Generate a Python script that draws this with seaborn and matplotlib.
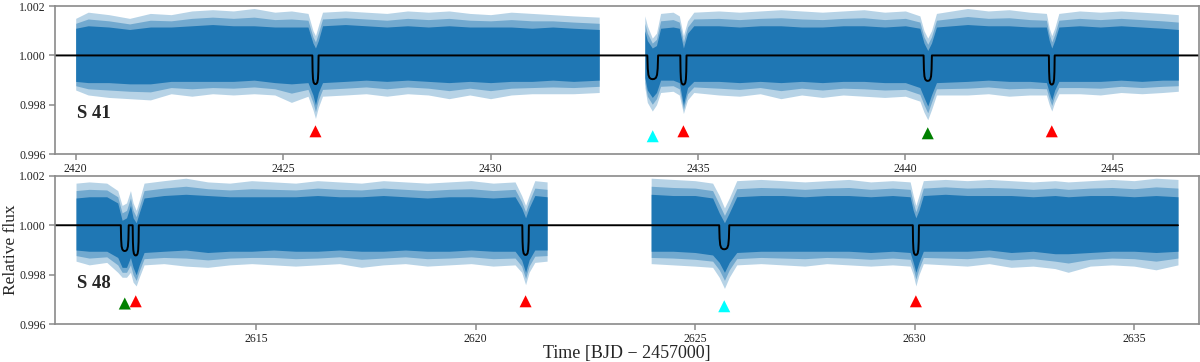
import numpy as np
import pandas as pd
import matplotlib
matplotlib.use('Agg')
import matplotlib.pyplot as plt
import seaborn as sns

# ─── DATA ─────────────────────────────────────────────────────────────────────
# Flux scatter is drawn as envelopes, in ppm around 1.0:
# columns: time, outer upper, dense upper, dense lower, outer lower
S41_SEG_A = [
    (2420.00, 1500, 1100, -1050, -1400), (2420.30, 1750, 1200, -1100, -1600),
    (2420.80, 1650, 1150, -1100, -1700), (2421.30, 1500, 1050, -1150, -1750),
    (2421.80, 1700, 1150, -1150, -1800), (2422.30, 1650, 1150, -1050, -1550),
    (2422.80, 1800, 1200, -1050, -1650), (2423.30, 1850, 1250, -1050, -1550),
    (2423.80, 1800, 1200, -1050, -1600), (2424.30, 1900, 1200, -1000, -1550),
    (2424.80, 1750, 1150, -1100, -1600), (2425.20, 1800, 1150, -1150, -1900),
    (2425.60, 1700, 1150, -1100, -1650), (2425.72, 1000, 500, -1600, -2200),
    (2425.78, 800, 300, -2000, -2550), (2425.85, 1200, 600, -1500, -2100),
    (2425.95, 1750, 1200, -1100, -1650), (2426.50, 1800, 1250, -1050, -1600),
    (2427.00, 1750, 1200, -1000, -1550), (2427.50, 1700, 1150, -1050, -1650),
    (2428.00, 1800, 1200, -1000, -1550), (2428.50, 1750, 1150, -1050, -1600),
    (2429.00, 1800, 1200, -1100, -1750), (2429.50, 1700, 1150, -1050, -1600),
    (2430.00, 1650, 1150, -1100, -1750), (2430.50, 1750, 1150, -1050, -1600),
    (2431.00, 1700, 1100, -1050, -1550), (2431.50, 1650, 1150, -1000, -1550),
    (2432.00, 1600, 1100, -1050, -1550), (2432.62, 1550, 1050, -1000, -1500),
]
S41_SEG_B = [
    (2433.72, 1600, 1000, -900, -1300), (2433.78, 1200, 600, -1400, -1900),
    (2433.90, 700, 300, -1700, -2250), (2434.00, 900, 400, -1500, -2000),
    (2434.10, 1700, 1100, -1000, -1500), (2434.40, 1750, 1150, -1000, -1450),
    (2434.55, 1600, 1100, -1100, -1600), (2434.65, 800, 300, -2000, -2350),
    (2434.75, 1400, 900, -1300, -1800), (2434.90, 1750, 1200, -1050, -1500),
    (2435.50, 1800, 1200, -1050, -1600), (2436.00, 1750, 1150, -1100, -1650),
    (2436.50, 1800, 1200, -1050, -1550), (2437.00, 1850, 1200, -1100, -1750),
    (2437.50, 1800, 1150, -1050, -1600), (2438.00, 1750, 1150, -1100, -1700),
    (2438.50, 1800, 1200, -1050, -1600), (2439.00, 1850, 1200, -1050, -1650),
    (2439.50, 1750, 1150, -1100, -1700), (2440.00, 1800, 1200, -1100, -1650),
    (2440.35, 1600, 1100, -1300, -1850), (2440.45, 1000, 500, -1700, -2300),
    (2440.54, 700, 200, -2050, -2600), (2440.63, 1000, 500, -1600, -2200),
    (2440.75, 1700, 1150, -1100, -1600), (2441.50, 1900, 1250, -1050, -1600),
    (2442.00, 1800, 1200, -1000, -1550), (2442.50, 1850, 1200, -1050, -1650),
    (2443.00, 1750, 1150, -1050, -1600), (2443.40, 1700, 1150, -1100, -1600),
    (2443.47, 1100, 600, -1500, -2000), (2443.53, 800, 300, -1800, -2250),
    (2443.60, 1100, 600, -1400, -1900), (2443.70, 1700, 1150, -1050, -1550),
    (2444.20, 1800, 1200, -1050, -1550), (2444.70, 1750, 1150, -1050, -1600),
    (2445.20, 1800, 1200, -1000, -1500), (2445.70, 1750, 1150, -1050, -1550),
    (2446.20, 1700, 1100, -1000, -1500), (2446.58, 1650, 1050, -1000, -1450),
]
S48_SEG_A = [
    (2610.90, 1700, 1100, -1000, -1450), (2611.20, 1750, 1150, -1050, -1600),
    (2611.60, 1700, 1150, -1050, -1500), (2611.85, 1400, 900, -1300, -1900),
    (2611.95, 800, 200, -1700, -2100), (2612.05, 900, 300, -1700, -2100),
    (2612.14, 1400, 800, -1300, -1900), (2612.20, 900, 300, -1700, -2300),
    (2612.27, 600, 100, -2000, -2450), (2612.34, 1000, 500, -1600, -2100),
    (2612.45, 1700, 1100, -1100, -1600), (2612.90, 1800, 1200, -1050, -1550),
    (2613.40, 1900, 1250, -1000, -1650), (2613.90, 1750, 1200, -1100, -1700),
    (2614.40, 1700, 1150, -1050, -1600), (2614.90, 1800, 1150, -1050, -1550),
    (2615.40, 1750, 1150, -1000, -1600), (2615.90, 1700, 1150, -1050, -1650),
    (2616.40, 1800, 1200, -1050, -1600), (2616.90, 1750, 1150, -1000, -1550),
    (2617.40, 1700, 1150, -1050, -1700), (2617.90, 1800, 1200, -1050, -1600),
    (2618.40, 1750, 1150, -1000, -1550), (2618.90, 1700, 1100, -1050, -1650),
    (2619.40, 1750, 1150, -1050, -1600), (2619.90, 1800, 1150, -1000, -1550),
    (2620.40, 1700, 1100, -1050, -1650), (2620.90, 1750, 1150, -1050, -1600),
    (2621.05, 1200, 700, -1400, -1900), (2621.14, 800, 300, -1900, -2400),
    (2621.22, 1200, 700, -1400, -1900), (2621.35, 1800, 1200, -1000, -1500),
    (2621.63, 1750, 1150, -1000, -1450),
]
S48_SEG_B = [
    (2624.00, 1900, 1250, -1050, -1550), (2624.50, 1850, 1200, -1050, -1600),
    (2625.00, 1800, 1200, -1100, -1650), (2625.40, 1700, 1100, -1200, -1700),
    (2625.55, 1200, 500, -1500, -2100), (2625.67, 700, 100, -1900, -2550),
    (2625.78, 1100, 500, -1500, -2100), (2625.95, 1800, 1150, -1100, -1600),
    (2626.50, 1850, 1200, -1050, -1550), (2627.00, 1800, 1200, -1050, -1600),
    (2627.50, 1750, 1150, -1050, -1650), (2628.00, 1800, 1200, -1050, -1550),
    (2628.50, 1850, 1200, -1050, -1600), (2629.00, 1750, 1150, -1100, -1650),
    (2629.50, 1800, 1200, -1050, -1600), (2629.90, 1750, 1150, -1100, -1650),
    (2629.97, 1200, 600, -1500, -2000), (2630.03, 800, 300, -1900, -2450),
    (2630.10, 1200, 600, -1500, -2000), (2630.20, 1800, 1200, -1050, -1550),
    (2630.70, 1850, 1250, -1050, -1600), (2631.20, 1800, 1200, -1050, -1650),
    (2631.70, 1850, 1200, -1000, -1550), (2632.20, 1800, 1200, -1100, -1700),
    (2632.70, 1750, 1150, -1050, -1650), (2633.20, 1800, 1200, -1150, -1750),
    (2633.50, 1750, 1150, -1150, -1900), (2634.00, 1800, 1200, -1100, -1650),
    (2634.50, 1850, 1200, -1050, -1600), (2635.00, 1800, 1150, -1050, -1650),
    (2635.50, 1900, 1200, -1100, -1800), (2636.00, 1850, 1150, -1050, -1600),
]

# transits: centre, duration [d], model depth, marker colour, marker level
S41_TRANSITS = [
    (2425.78, 0.15, 0.00116, 'red',  0.99693),
    (2433.91, 0.26, 0.00096, 'cyan', 0.99673),
    (2434.65, 0.15, 0.00118, 'red',  0.99693),
    (2440.54, 0.20, 0.00103, 'green', 0.99685),
    (2443.53, 0.14, 0.00118, 'red',  0.99693),
]
S48_TRANSITS = [
    (2612.01, 0.18, 0.00104, 'green', 0.99684),
    (2612.26, 0.14, 0.00122, 'red',  0.99693),
    (2621.14, 0.15, 0.00120, 'red',  0.99693),
    (2625.665, 0.23, 0.00097, 'cyan', 0.99673),
    (2630.03, 0.14, 0.00120, 'red',  0.99693),
]

# U-shaped transit profile (phase, fraction of depth)
PROFILE_PHASE = [-0.5, -0.46, -0.40, -0.30, -0.15, 0.0, 0.15, 0.30, 0.40, 0.46, 0.5]
PROFILE_DEPTH = [0.0, 0.55, 0.82, 0.94, 0.99, 1.0, 0.99, 0.94, 0.82, 0.55, 0.0]

S41_MODEL_SPAN = (2419.5, 2447.1)
S48_MODEL_SPAN = (2610.42, 2636.0)

PANELS = [
    ('S 41', [S41_SEG_A, S41_SEG_B], S41_TRANSITS, S41_MODEL_SPAN,
     (2419.5, 2447.08), [2420, 2425, 2430, 2435, 2440, 2445]),
    ('S 48', [S48_SEG_A, S48_SEG_B], S48_TRANSITS, S48_MODEL_SPAN,
     (2610.42, 2636.48), [2615, 2620, 2625, 2630, 2635]),
]
Y_TICKS = [0.996, 0.998, 1.000, 1.002]

DATA_BLUE = '#1f77b4'
SPINE_GREY = '#8a8a8a'


def model_curve(transits, span):
    xs, ys = [span[0]], [1.0]
    for tc, dur, depth, _, _ in sorted(transits):
        for ph, fr in zip(PROFILE_PHASE, PROFILE_DEPTH):
            xs.append(tc + ph * dur)
            ys.append(1.0 - fr * depth)
    xs.append(span[1]); ys.append(1.0)
    return pd.DataFrame({'time': xs, 'flux': ys})


def draw_panel(ax, label, segments, transits, span, xlim, xticks):
    for seg in segments:
        d = pd.DataFrame(seg, columns=['t', 'hi_out', 'hi_in', 'lo_in', 'lo_out'])
        ax.fill_between(d.t, 1 + d.lo_out * 1e-6, 1 + d.hi_out * 1e-6,
                        color=DATA_BLUE, alpha=0.32, lw=0)
        ax.fill_between(d.t, 1 + (d.lo_in + d.lo_out) * 0.5e-6,
                        1 + (d.hi_in + d.hi_out) * 0.5e-6,
                        color=DATA_BLUE, alpha=0.45, lw=0)
        ax.fill_between(d.t, 1 + d.lo_in * 1e-6, 1 + d.hi_in * 1e-6,
                        color=DATA_BLUE, alpha=1.0, lw=0)

    m = model_curve(transits, span)
    sns.lineplot(data=m, x='time', y='flux', sort=False, estimator=None,
                 color='black', lw=1.4, ax=ax)

    tr = pd.DataFrame(transits, columns=['tc', 'dur', 'depth', 'col', 'ymark'])
    sns.scatterplot(data=tr, x='tc', y='ymark', hue='col',
                    palette={'red': '#ff0000', 'green': '#008000', 'cyan': '#00ffff'},
                    marker='^', s=75, linewidth=0, legend=False, ax=ax)

    ax.text(0.019, 0.245, label, transform=ax.transAxes, fontsize=13.5,
            fontweight='bold', ha='left', va='baseline')
    ax.set_xlim(*xlim)
    ax.set_ylim(0.996, 1.002)
    ax.set_xticks(xticks)
    ax.set_yticks(Y_TICKS)
    ax.set_yticklabels([f'{v:.3f}' for v in Y_TICKS])
    ax.set_xlabel(''); ax.set_ylabel('')
    for s in ax.spines.values():
        s.set_color(SPINE_GREY); s.set_linewidth(1.2)
    ax.tick_params(colors=SPINE_GREY, labelcolor='#222222', labelsize=8.5,
                   length=4.5, width=1.1, direction='out', pad=2)


# ─── PLOT ─────────────────────────────────────────────────────────────────────
sns.set_theme(style='ticks')
plt.rcParams['font.family'] = ['Liberation Serif', 'DejaVu Serif']
plt.rcParams['mathtext.fontset'] = 'stix'

fig = plt.figure(figsize=(12, 3.62), dpi=100)
ax_top = fig.add_axes([0.0458, 0.5738, 0.9534, 0.4096])
ax_bot = fig.add_axes([0.0458, 0.1041, 0.9534, 0.4105])

for ax, panel in zip([ax_top, ax_bot], PANELS):
    draw_panel(ax, *panel)

ax_bot.set_ylabel('Relative flux', fontsize=12.5)
ax_bot.yaxis.set_label_coords(-0.0315, 0.5)
ax_bot.set_xlabel('Time [BJD \u2212 2457000]', fontsize=13, labelpad=0)

fig.savefig('out.png', dpi=100)
